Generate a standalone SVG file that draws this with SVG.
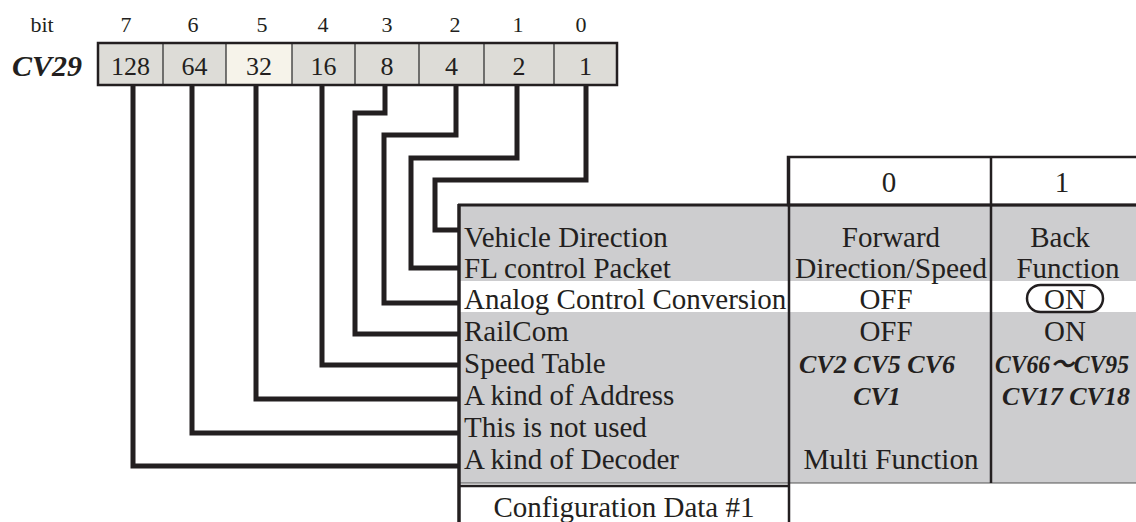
<svg xmlns="http://www.w3.org/2000/svg" width="1136" height="522" viewBox="0 0 1136 522">
<style>
text{font-family:"Liberation Serif","Noto Sans CJK JP",serif;fill:#231f20}
.bit{font-size:22px;text-anchor:middle}
.reg{font-size:26px;text-anchor:middle}
.lbl{font-size:29px}
.val{font-size:29px;text-anchor:middle}
.bi{font-size:26px;font-weight:bold;font-style:italic;text-anchor:middle}
.conn{fill:none;stroke:#231f20;stroke-width:5;stroke-linejoin:miter}
.div{stroke:#333;stroke-width:1.3}
.bd{stroke:#231f20;stroke-width:2.5}
</style>
<rect width="1136" height="522" fill="#fff"/>
<g id="bits">
<text class="bit" x="42" y="32">bit</text>
<text class="bit" x="126" y="32">7</text>
<text class="bit" x="193" y="32">6</text>
<text class="bit" x="262" y="32">5</text>
<text class="bit" x="323" y="32">4</text>
<text class="bit" x="387" y="32">3</text>
<text class="bit" x="455" y="32">2</text>
<text class="bit" x="518" y="32">1</text>
<text class="bit" x="581" y="32">0</text>
</g>
<g id="cv29">
<text x="12" y="76" style="font-size:30px;font-weight:bold;font-style:italic">CV29</text>
</g>
<g id="register">
<rect x="98" y="43" width="519" height="42" fill="#dddcd7"/>
<rect x="226" y="43" width="66" height="42" fill="#f6f3ea"/>
<line class="div" x1="163" y1="43" x2="163" y2="85"/>
<line class="div" x1="226" y1="43" x2="226" y2="85"/>
<line class="div" x1="292" y1="43" x2="292" y2="85"/>
<line class="div" x1="355" y1="43" x2="355" y2="85"/>
<line class="div" x1="419" y1="43" x2="419" y2="85"/>
<line class="div" x1="484" y1="43" x2="484" y2="85"/>
<line class="div" x1="554" y1="43" x2="554" y2="85"/>
<rect x="98" y="43" width="519" height="42" fill="none" class="bd"/>
<text class="reg" x="130.5" y="75">128</text>
<text class="reg" x="194.5" y="75">64</text>
<text class="reg" x="259" y="75">32</text>
<text class="reg" x="323.5" y="75">16</text>
<text class="reg" x="387" y="75">8</text>
<text class="reg" x="451.5" y="75">4</text>
<text class="reg" x="519" y="75">2</text>
<text class="reg" x="585.5" y="75">1</text>
</g>
<g id="connectors">
<path class="conn" d="M133,86 V466 H458"/>
<path class="conn" d="M192,86 V433 H458"/>
<path class="conn" d="M256,86 V399 H458"/>
<path class="conn" d="M322,86 V365 H458"/>
<path class="conn" d="M385,86 V113 H355 V334 H458"/>
<path class="conn" d="M456,86 V135 H384 V303 H458"/>
<path class="conn" d="M517,86 V158 H411 V268 H458"/>
<path class="conn" d="M586,86 V180 H435 V230 H458"/>
</g>
<g id="table">
<rect x="458" y="205" width="690" height="278" fill="#cdcdcf"/>
<rect x="460" y="281" width="690" height="31" fill="#fff"/>
<line x1="458" y1="483" x2="1136" y2="483" stroke="#555" stroke-width="1.2"/>
<rect x="788" y="157" width="360" height="48" fill="#fff" class="bd"/>
<line class="bd" x1="458" y1="205" x2="1136" y2="205" style="stroke-width:3"/>
<line class="bd" x1="459" y1="204" x2="459" y2="522" style="stroke-width:3.5"/>
<line class="bd" x1="789" y1="157" x2="789" y2="522"/>
<line class="bd" x1="991" y1="157" x2="991" y2="483"/>
<line class="bd" x1="458" y1="486" x2="790" y2="486"/>
</g>
<g id="header">
<text class="val" x="889" y="192">0</text>
<text class="val" x="1062" y="192">1</text>
</g>
<g id="labels">
<text class="lbl" x="464" y="247">Vehicle Direction</text>
<text class="lbl" x="464" y="278">FL control Packet</text>
<text class="lbl" x="464" y="309">Analog Control Conversion</text>
<text class="lbl" x="464" y="341">RailCom</text>
<text class="lbl" x="464" y="373">Speed Table</text>
<text class="lbl" x="464" y="405">A kind of Address</text>
<text class="lbl" x="464" y="437">This is not used</text>
<text class="lbl" x="464" y="469">A kind of Decoder</text>
</g>
<g id="col0">
<text class="val" x="891" y="247">Forward</text>
<text class="val" x="891" y="278" textLength="192" lengthAdjust="spacingAndGlyphs">Direction/Speed</text>
<text class="val" x="886" y="309">OFF</text>
<text class="val" x="886" y="341">OFF</text>
<text class="bi" x="877" y="373">CV2 CV5 CV6</text>
<text class="bi" x="877" y="405">CV1</text>
<text class="val" x="891" y="469">Multi Function</text>
</g>
<g id="col1">
<text class="val" x="1060" y="247">Back</text>
<text class="val" x="1068" y="278">Function</text>
<rect x="1027" y="285" width="76" height="27" rx="13.5" fill="#fff" class="bd"/>
<text class="val" x="1065" y="309">ON</text>
<text class="val" x="1065" y="341">ON</text>
<text x="995" y="373" textLength="134" lengthAdjust="spacingAndGlyphs" style="font-size:25px;font-weight:bold;font-style:italic">CV66〜CV95</text>
<text class="bi" x="1066" y="405">CV17 CV18</text>
</g>
<g id="footer">
<text class="val" x="624" y="517">Configuration Data #1</text>
</g>
</svg>
